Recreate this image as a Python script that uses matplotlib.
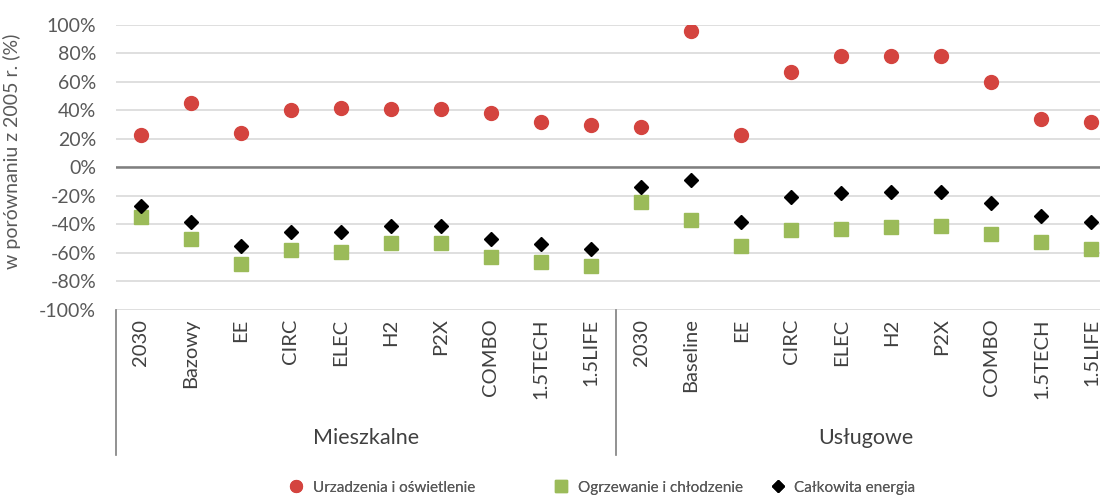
import numpy as np
import matplotlib.pyplot as plt
from matplotlib.lines import Line2D
from matplotlib.transforms import blended_transform_factory

# -----------------------------
# Data
# -----------------------------
groups = ["Mieszkalne", "Usługowe"]
cats_res = ["2030", "Bazowy", "EE", "CIRC", "ELEC", "H2", "P2X", "COMBO", "1.5TECH", "1.5LIFE"]
cats_srv = ["2030", "Baseline", "EE", "CIRC", "ELEC", "H2", "P2X", "COMBO", "1.5TECH", "1.5LIFE"]

devices_res = [23, 45, 24, 40, 42, 41, 41, 38, 32, 30]
devices_srv = [28, 96, 23, 67, 78, 78, 78, 60, 34, 32]

heating_res = [-35, -50, -68, -58, -59, -53, -53, -63, -66, -69]
heating_srv = [-24, -37, -55, -44, -43, -42, -41, -47, -52, -57]

total_res = [-27, -38, -55, -45, -45, -41, -41, -50, -54, -57]
total_srv = [-14, -9, -38, -21, -18, -17, -17, -25, -34, -38]

labels = ["Urzadzenia i oświetlenie", "Ogrzewanie i chłodzenie", "Całkowita energia"]
yticks = [-100, -80, -60, -40, -20, 0, 20, 40, 60, 80, 100]

GREY = "#595959"
RED = "#D4443F"
GREEN = "#9BBB59"

plt.rcParams["font.family"] = ["Lato", "DejaVu Sans"]

cats = cats_res + cats_srv
x = np.arange(len(cats))
devices = devices_res + devices_srv
heating = heating_res + heating_srv
total = total_res + total_srv

fig = plt.figure(figsize=(11, 4.96), dpi=100)
ax = fig.add_axes([0.105, 0.375, 0.91, 0.575])

ax.plot(x, devices, "o", color=RED, ms=10, ls="none", zorder=3)
ax.plot(x, heating, "s", color=GREEN, ms=9.5, ls="none", zorder=3)
ax.plot(x, total, "D", color="black", ms=7.5, ls="none", zorder=4)

ax.set_xlim(-0.5, len(cats) - 0.5)
ax.set_ylim(-100, 100)
ax.set_yticks(yticks)
ax.set_yticklabels([f"{v}%" for v in yticks], color=GREY, fontsize=14)
ax.tick_params(axis="y", length=0, pad=14)
ax.set_xticks([])
ax.grid(axis="y", color="#d9d9d9", lw=1.2)
ax.axhline(0, color="#7f7f7f", lw=1.8, zorder=2)
for s in ax.spines.values():
    s.set_visible(False)

ax.set_ylabel("w porównaniu z 2005 r. (%)", color=GREY, fontsize=14)
ax.yaxis.set_label_coords(-0.094, 0.555)

# category and group labels below the axis
trans = blended_transform_factory(ax.transData, ax.transAxes)
for xi, c in zip(x, cats):
    ax.text(xi, -0.03, c, transform=trans, rotation=90, ha="center", va="top",
            color="#404040", fontsize=14.5)

n = len(cats_res)
for i, g in enumerate(groups):
    ax.text(i * n + (n - 1) / 2, -0.449, g, transform=trans, ha="center", va="center",
            color="#404040", fontsize=15.5)
for b in [-0.5, n - 0.5, 2 * n - 0.5]:
    ax.plot([b, b], [0, -0.51], transform=trans, color="#7f7f7f", lw=1.2, clip_on=False)

# legend: three separate entries to match the uneven spacing
handles = [
    Line2D([], [], marker="o", color=RED, ls="none", ms=8.5),
    Line2D([], [], marker="s", color=GREEN, ls="none", ms=8.5),
    Line2D([], [], marker="D", color="black", ls="none", ms=6.5),
]
anchors = [0.262, 0.503, 0.7]
for h, lab, xa in zip(handles, labels, anchors):
    leg = fig.legend([h], [lab], loc="center left", bbox_to_anchor=(xa, 0.017),
                     frameon=False, fontsize=11, labelcolor=GREY,
                     handlelength=1.0, handletextpad=0.6, borderpad=0, borderaxespad=0)
    fig.add_artist(leg)

fig.savefig("out.png", dpi=100)
